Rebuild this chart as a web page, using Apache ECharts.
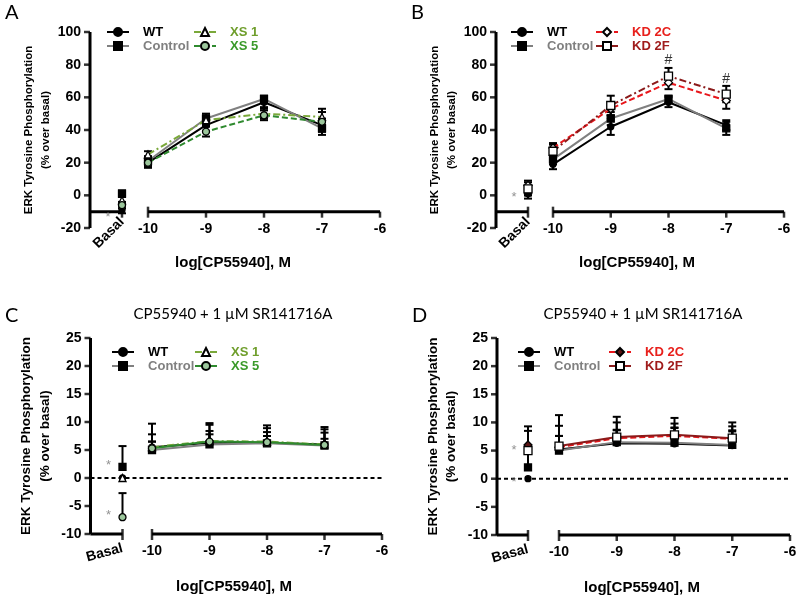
<!DOCTYPE html>
<html>
<head>
<meta charset="utf-8">
<script src="https://cdn.jsdelivr.net/npm/echarts@6/dist/echarts.min.js"></script>
<style>html,body{margin:0;padding:0;background:#fff}#main{width:800px;height:602px}</style>
</head>
<body>
<div id="main"></div>
<script>
const doses = [-10, -9, -8, -7]
const xTicks = [-10, -9, -8, -7, -6]
const abTicks = [-20, 0, 20, 40, 60, 80, 100]
const cdTicks = [-10, -5, 0, 5, 10, 15, 20, 25]

// every series: [basal, -10, -9, -8, -7]  (% over basal)
const aWT = [-9, 20, 43, 57, 43]
const aWTErr = [2, 3, 4, 3, 4]
const aControl = [1, 21, 47, 59, 41]
const aControlErr = [2, 3, 3, 2, 4]
const aXS1 = [-3, 25, 46, 50, 48]
const aXS1Err = [2, 2, 3, 3, 5]
const aXS5 = [-6, 20, 39, 49, 45]
const aXS5Err = [2, 3, 3, 3, 6]
const aStar = [-13.5]

const bWT = [1, 19, 42, 57, 43]
const bWTErr = [3, 3, 5, 3, 3]
const bControl = [3, 22, 47, 59, 41]
const bControlErr = [3, 3, 4, 2, 4]
const bKD2C = [6, 29, 53, 69, 58]
const bKD2CErr = [3, 3, 4, 4, 5]
const bKD2F = [4, 27, 55, 73, 62]
const bKD2FErr = [4, 4, 6, 5, 5]
const bStar = [-1]
const hashDoses = [-8, -7]
const bHash = [83, 71]

const cWT = [0, 5.5, 6.3, 6.3, 6.0]
const cWTErr = [0, 1, 1.5, 1.2, 1]
const cControl = [2, 5.0, 6.0, 6.2, 5.8]
const cControlErr = [3.7, 4.7, 3.5, 3.2, 3.3]
const cXS1 = [0, 5.5, 6.6, 6.5, 6.0]
const cXS1Err = [0, 2.3, 3.2, 2.4, 2.7]
const cXS5 = [-7, 5.3, 6.5, 6.4, 5.9]
const cXS5Err = [4.3, 1.2, 1.9, 1.8, 2.2]
const cStar = [2.3, -6.6]

const dWT = [0, 5.2, 6.3, 6.2, 5.9]
const dWTErr = [0, 6.1, 4.7, 4.6, 4.1]
const dControl = [2, 5.0, 6.5, 6.4, 6.0]
const dControlErr = [3.5, 4.4, 3.5, 3.4, 3.3]
const dKD2C = [6, 5.6, 7.2, 7.6, 7.1]
const dKD2CErr = [3.3, 2, 1.5, 1.5, 1.5]
const dKD2F = [5, 5.8, 7.4, 7.8, 7.2]
const dKD2FErr = [3.5, 1.8, 1.2, 1.2, 1.2]
const dStar = [5.1, -0.7]

const FONT = 'Liberation Sans, Arial, sans-serif'

const looks = {
  'WT': {line: '#000', dash: 'solid', symbol: 'circle', size: 6, fill: '#000', text: '#000'},
  'Control': {line: '#808080', dash: 'solid', symbol: 'rect', size: 7, fill: '#000', text: '#808080'},
  'XS 1': {line: '#7aa83a', dash: [7, 3, 2, 3], symbol: 'triangle', size: 7, fill: '#fff', text: '#6f9e2c'},
  'XS 5': {line: '#2f8a2f', dash: [6, 3], symbol: 'circle', size: 7, fill: '#9cc79c', text: '#3a9a2a'},
  'KD 2C': {line: '#e8161b', dash: [6, 3], symbol: 'diamond', size: 8, fill: '#fff', text: '#e8201c'},
  'KD 2F': {line: '#8b1a1a', dash: [7, 3, 2, 3], symbol: 'rect', size: 8, fill: '#fff', text: '#a01c1c'}
}

const panels = [
  {id: 'A', yLeft: 90, basalRight: 122, mainLeft: 148, mainRight: 380, top: 32, bottom: 228,
    yTicks: abTicks, axisAt: -10, basalRotate: 45, basalMargin: 8, upOnly: false, yNameSize: 11.5,
    groups: [['WT', aWT, aWTErr], ['Control', aControl, aControlErr], ['XS 1', aXS1, aXS1Err], ['XS 5', aXS5, aXS5Err]],
    star: aStar, legendLeft: [106, 193], legendTop: 25, letter: [5, 3], xTitle: [233, 255]},
  {id: 'B', yLeft: 496, basalRight: 528, mainLeft: 553, mainRight: 784, top: 32, bottom: 228,
    yTicks: abTicks, axisAt: -10, basalRotate: 45, basalMargin: 8, upOnly: false, yNameSize: 11.5,
    groups: [['WT', bWT, bWTErr], ['Control', bControl, bControlErr], ['KD 2C', bKD2C, bKD2CErr], ['KD 2F', bKD2F, bKD2FErr]],
    star: bStar, legendLeft: [510, 595], legendTop: 25, letter: [411, 3], xTitle: [637, 255]},
  {id: 'C', yLeft: 90.5, basalRight: 122.5, mainLeft: 152, mainRight: 382, top: 338, bottom: 534,
    yTicks: cdTicks, axisAt: -10, basalRotate: 15, basalMargin: 14, upOnly: true, yNameSize: 13.5, zeroLine: true,
    groups: [['WT', cWT, cWTErr], ['Control', cControl, cControlErr], ['XS 1', cXS1, cXS1Err], ['XS 5', cXS5, cXS5Err]],
    override: {'XS 5': {dash: 'solid'}},
    star: cStar, legendLeft: [111, 194], legendTop: 345, letter: [5, 306], xTitle: [234, 579], title: [233, 307]},
  {id: 'D', yLeft: 497, basalRight: 528, mainLeft: 559, mainRight: 790, top: 338, bottom: 535,
    yTicks: cdTicks, axisAt: -10, basalRotate: 15, basalMargin: 14, upOnly: true, yNameSize: 13.5, zeroLine: true,
    groups: [['WT', dWT, dWTErr], ['Control', dControl, dControlErr], ['KD 2C', dKD2C, dKD2CErr], ['KD 2F', dKD2F, dKD2FErr]],
    override: {'KD 2F': {dash: 'solid'}, 'KD 2C': {fill: '#5a1414'}},
    star: dStar, legendLeft: [517, 608], legendTop: 345, letter: [412, 306], xTitle: [642, 580], title: [643, 307]}
]

function errBar(upOnly) {
  return function (params, api) {
    const x = api.value(0)
    const mean = api.value(1), top = api.value(2)
    if (!(top > mean)) return {type: 'group', children: []}
    const hi = api.coord([x, top])
    const lo = upOnly ? api.coord([x, mean]) : api.coord([x, api.value(3)])
    const st = () => ({stroke: '#000', lineWidth: 2})
    const kids = [
      {type: 'line', shape: {x1: hi[0], y1: hi[1], x2: lo[0], y2: lo[1]}, style: st()},
      {type: 'line', shape: {x1: hi[0] - 4, y1: hi[1], x2: hi[0] + 4, y2: hi[1]}, style: st()}
    ]
    if (!upOnly) kids.push({type: 'line', shape: {x1: lo[0] - 4, y1: lo[1], x2: lo[0] + 4, y2: lo[1]}, style: st()})
    return {type: 'group', children: kids}
  }
}

const mkFont = () => ({color: '#000', fontFamily: FONT, fontWeight: 'bold', fontSize: 14})
// axis line drawn as a plain line series between the axis ends
const axisSeg = (xi, yi, pts) => ({type: 'line', xAxisIndex: xi, yAxisIndex: yi, z: 3, symbol: 'none', silent: true,
  clip: false, lineStyle: {color: '#000', width: 3, type: 'solid'}, data: pts})
// tick marks drawn as thin rect symbols at the tick values
const tickMarks = (xi, yi, pts, size, offset) => ({type: 'scatter', xAxisIndex: xi, yAxisIndex: yi, z: 3, silent: true,
  clip: false, symbol: 'rect', symbolSize: size, symbolOffset: offset, itemStyle: {color: '#000'}, data: pts})

const grids = [], xAxes = [], yAxes = [], series = [], legends = [], titles = []

panels.forEach(p => {
  const h = p.bottom - p.top
  const yMin = p.yTicks[0], yMax = p.yTicks[p.yTicks.length - 1], yStep = p.yTicks[1] - p.yTicks[0]
  const xMin = xTicks[0], xMax = xTicks[xTicks.length - 1]
  const off = -(p.axisAt - yMin) / (yMax - yMin) * h
  const g0 = grids.length
  grids.push({left: p.yLeft, top: p.top, width: p.basalRight - p.yLeft, height: h})
  grids.push({left: p.mainLeft, top: p.top, width: p.mainRight - p.mainLeft, height: h})
  const xb = xAxes.length, yb = yAxes.length
  xAxes.push({gridIndex: g0, type: 'category', data: ['', 'Basal'], boundaryGap: false, offset: off,
    axisLine: {show: false}, axisTick: {show: false},
    axisLabel: {...mkFont(), rotate: p.basalRotate, margin: p.basalMargin, interval: 0}})
  xAxes.push({gridIndex: g0 + 1, type: 'value', min: xMin, max: xMax, interval: 1, offset: off,
    splitLine: {show: false}, axisLine: {show: false}, axisTick: {show: false},
    axisLabel: {...mkFont(), margin: 10}})
  yAxes.push({gridIndex: g0, type: 'value', min: yMin, max: yMax, interval: yStep,
    splitLine: {show: false}, axisLine: {show: false}, axisTick: {show: false}, axisLabel: {...mkFont(), margin: 9},
    name: 'ERK Tyrosine Phosphorylation\n(% over basal)', nameLocation: 'middle', nameGap: 36,
    nameTextStyle: {color: '#000', fontFamily: FONT, fontWeight: 'bold', fontSize: p.yNameSize, lineHeight: p.yNameSize + 5}})
  yAxes.push({gridIndex: g0 + 1, type: 'value', min: yMin, max: yMax, show: false, splitLine: {show: false}})
  const xm = xb + 1, ym = yb + 1

  // axis lines and ticks
  series.push(axisSeg(xb, yb, [[0, yMin], [0, yMax]]))
  series.push(axisSeg(xb, yb, [[0, p.axisAt], [1, p.axisAt]]))
  series.push(axisSeg(xm, ym, [[xMin, p.axisAt], [xMax, p.axisAt]]))
  series.push(tickMarks(xb, yb, p.yTicks.map(t => [0, t]), [6, 2.5], [-3, 0]))
  series.push(tickMarks(xb, yb, [[1, p.axisAt]], [2.5, 11], [0, 0.5]))
  series.push(tickMarks(xm, ym, [[xMin, p.axisAt]], [2.5, 11], [0, 0.5]))
  series.push(tickMarks(xm, ym, xTicks.slice(1).map(t => [t, p.axisAt]), [2.5, 6], [0, 3]))

  if (p.zeroLine) {
    // dashed reference line at 0, running under both axis parts
    grids.push({left: p.yLeft, top: p.top, width: p.mainRight - p.yLeft, height: h})
    const xz = xAxes.length, yz = yAxes.length
    xAxes.push({gridIndex: g0 + 2, type: 'value', min: 0, max: 1, show: false, splitLine: {show: false}})
    yAxes.push({gridIndex: g0 + 2, type: 'value', min: yMin, max: yMax, show: false, splitLine: {show: false}})
    series.push({type: 'line', xAxisIndex: xz, yAxisIndex: yz, z: 1, symbol: 'none', silent: true,
      lineStyle: {color: '#000', width: 2, type: [4, 3]}, data: [[0, 0], [1, 0]]})
  }

  const legendData = []
  p.groups.forEach(([name, mean, err]) => {
    const lk = {...looks[name], ...((p.override || {})[name] || {})}
    const key = name + '|' + p.id
    legendData.push({name: key, textStyle: {color: lk.text}})
    const common = () => ({
      symbol: lk.symbol, symbolSize: lk.size, z: 4,
      itemStyle: {color: lk.fill, borderColor: '#000', borderWidth: 1.3},
      lineStyle: {color: lk.line, width: 2, type: lk.dash}
    })
    series.push({name: key, type: 'line', xAxisIndex: xm, yAxisIndex: ym, ...common(),
      data: doses.map((d, i) => [d, mean[i + 1]])})
    series.push({name: key + '|basal', type: 'line', xAxisIndex: xb, yAxisIndex: yb, ...common(),
      data: [[1, mean[0]]]})
    series.push({type: 'custom', xAxisIndex: xm, yAxisIndex: ym, z: 3, renderItem: errBar(p.upOnly),
      data: doses.map((d, i) => [d, mean[i + 1], mean[i + 1] + err[i + 1], mean[i + 1] - err[i + 1]])})
    series.push({type: 'custom', xAxisIndex: xb, yAxisIndex: yb, z: 3, renderItem: errBar(p.upOnly),
      data: [[1, mean[0], mean[0] + err[0], mean[0] - err[0]]]})
  })

  // significance asterisks next to basal
  series.push({type: 'scatter', xAxisIndex: xb, yAxisIndex: yb, symbolSize: 1, z: 5,
    itemStyle: {color: 'rgba(0,0,0,0)'},
    label: {show: true, formatter: '*', position: 'left', distance: 11, color: '#777', fontSize: 13, fontFamily: FONT},
    data: p.star.map(v => [1, v])})

  if (p.id === 'B') {
    series.push({type: 'scatter', xAxisIndex: xm, yAxisIndex: ym, symbolSize: 1, z: 5,
      itemStyle: {color: 'rgba(0,0,0,0)'},
      label: {show: true, formatter: '#', position: 'inside', color: '#000', fontSize: 14, fontFamily: FONT},
      data: hashDoses.map((d, i) => [d, bHash[i]])})
  }

  const legendBase = () => ({orient: 'vertical', top: p.legendTop, padding: 0, itemGap: 0, itemWidth: 22, itemHeight: 10,
    selectedMode: false, formatter: n => '\u2002\u2009' + n.split('|')[0],
    textStyle: {fontFamily: FONT, fontWeight: 'bold', fontSize: 13, lineHeight: 14}})
  legends.push({...legendBase(), left: p.legendLeft[0], data: legendData.slice(0, 2)})
  legends.push({...legendBase(), left: p.legendLeft[1], data: legendData.slice(2)})

  titles.push({text: p.id, left: p.letter[0], top: p.letter[1], padding: 0,
    textStyle: {fontFamily: 'Lato, sans-serif', fontWeight: 'normal', fontSize: 20, color: '#000'}})
  titles.push({text: 'log[CP55940], M', left: p.xTitle[0], top: p.xTitle[1], textAlign: 'center', padding: 0,
    textStyle: {fontFamily: FONT, fontWeight: 'bold', fontSize: 15, color: '#000'}})
  if (p.title) {
    titles.push({text: 'CP55940 + 1 µM SR141716A', left: p.title[0], top: p.title[1], textAlign: 'center', padding: 0,
      textStyle: {fontFamily: 'Lato, sans-serif', fontWeight: 'normal', fontSize: 15, color: '#000'}})
  }
})

const chart = echarts.init(document.getElementById('main'))
chart.setOption({
  animation: false,
  backgroundColor: '#fff',
  title: titles,
  legend: legends,
  grid: grids,
  xAxis: xAxes,
  yAxis: yAxes,
  series: series
})
</script>
</body>
</html>
